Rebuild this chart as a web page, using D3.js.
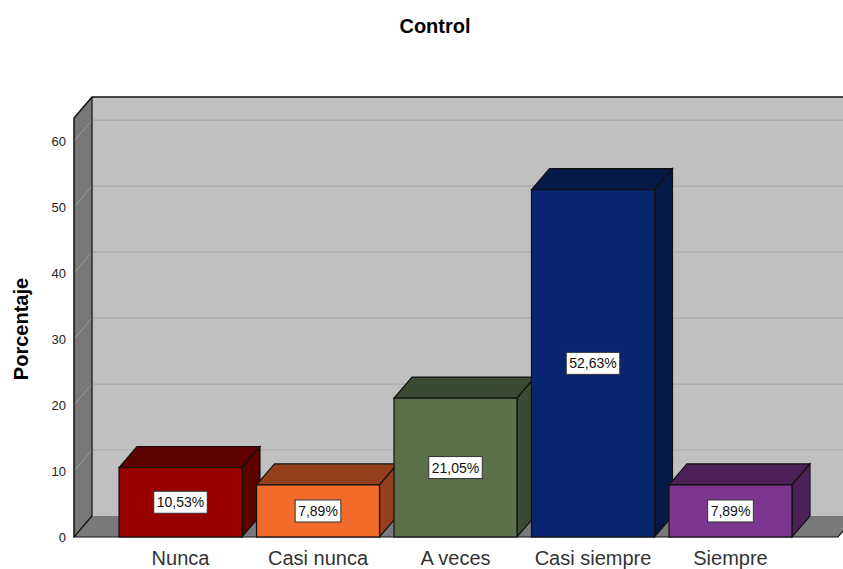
<!DOCTYPE html>
<html>
<head>
<meta charset="utf-8">
<script src="https://cdn.jsdelivr.net/npm/d3@7"></script>
<style>
  body { margin: 0; background: #fff; }
  text { font-family: Arial, "Liberation Sans", sans-serif; }
</style>
</head>
<body>
<svg id="chart" width="843" height="569"></svg>
<script>
// datos del gráfico
const categorias = ["Nunca", "Casi nunca", "A veces", "Casi siempre", "Siempre"];
const porcentajes = [10.53, 7.89, 21.05, 52.63, 7.89];
const etiquetas = ["10,53%", "7,89%", "21,05%", "52,63%", "7,89%"];
const ticksY = [0, 10, 20, 30, 40, 50, 60];
const coloresFrente = ["#990000", "#f26b2b", "#5b704a", "#0a2570", "#7b368f"];
const coloresLado = ["#5c0000", "#94401c", "#3b4a30", "#061a48", "#4c2159"];

const svg = d3.select("#chart");
const dx = 18, dy = 21; // profundidad 3D

const y = d3.scaleLinear().domain([0, 63.5]).range([537, 118]);
const x = d3.scaleBand()
  .domain(categorias)
  .range([111.75, 799.25])
  .paddingInner(0.1055)
  .paddingOuter(0.05275);

const x0 = 74, xFin = 838;
const yBase = y(0), yTop = y.range()[1];

// pared del fondo
svg.append("rect")
  .attr("x", x0 + dx).attr("y", yTop - dy)
  .attr("width", 900).attr("height", yBase - yTop)
  .attr("fill", "#c0c0c0");

// líneas de cuadrícula en el fondo
svg.selectAll(".grid")
  .data(ticksY.filter((d) => d > 0))
  .enter()
  .append("line")
  .attr("x1", x0 + dx).attr("x2", 900)
  .attr("y1", (d) => y(d) - dy).attr("y2", (d) => y(d) - dy)
  .style("stroke", "#aaaaaa")
  .style("stroke-width", 1.2);

// pared izquierda
svg.append("path")
  .attr("d", `M${x0},${yBase}L${x0},${yTop}L${x0 + dx},${yTop - dy}L${x0 + dx},${yBase - dy}Z`)
  .attr("fill", "#787878");

svg.selectAll(".gridLeft")
  .data(ticksY.filter((d) => d > 0))
  .enter()
  .append("line")
  .attr("x1", x0).attr("x2", x0 + dx)
  .attr("y1", (d) => y(d)).attr("y2", (d) => y(d) - dy)
  .style("stroke", "#9a9a9a")
  .style("stroke-width", 1);

// suelo
svg.append("path")
  .attr("d", `M${x0},${yBase}L${xFin},${yBase}L${xFin + dx},${yBase - dy}L${x0 + dx},${yBase - dy}Z`)
  .attr("fill", "#7a7a7a");

// bordes
const borde = "#111";
svg.append("path")
  .attr("d", `M${x0},${yBase}L${x0},${yTop}L${x0 + dx},${yTop - dy}L900,${yTop - dy}`)
  .attr("fill", "none").style("stroke", borde).style("stroke-width", 1.5);
svg.append("path")
  .attr("d", `M${x0 + dx},${yTop - dy}L${x0 + dx},${yBase - dy}L${x0},${yBase}L${xFin},${yBase}L${xFin + dx},${yBase - dy}`)
  .attr("fill", "none").style("stroke", borde).style("stroke-width", 1.2);

// barras
const barras = svg.selectAll(".bar")
  .data(categorias)
  .enter()
  .append("g")
  .attr("class", "bar");

barras.each(function (c, i) {
  const g = d3.select(this);
  const xa = x(c), xb = x(c) + x.bandwidth();
  const yt = y(porcentajes[i]);
  // cara superior
  g.append("path")
    .attr("d", `M${xa},${yt}L${xa + dx},${yt - dy}L${xb + dx},${yt - dy}L${xb},${yt}Z`)
    .attr("fill", coloresLado[i]).style("stroke", borde).style("stroke-width", 1.2);
  // cara lateral
  g.append("path")
    .attr("d", `M${xb},${yt}L${xb + dx},${yt - dy}L${xb + dx},${yBase - dy}L${xb},${yBase}Z`)
    .attr("fill", coloresLado[i]).style("stroke", borde).style("stroke-width", 1.2);
  // cara frontal
  g.append("rect")
    .attr("x", xa).attr("y", yt)
    .attr("width", x.bandwidth()).attr("height", yBase - yt)
    .attr("fill", coloresFrente[i]).style("stroke", borde).style("stroke-width", 1.2);

  // etiqueta de porcentaje
  const cx = (xa + xb) / 2, cy = (yt + yBase) / 2;
  const t = g.append("text")
    .attr("x", cx).attr("y", cy)
    .attr("text-anchor", "middle")
    .attr("dominant-baseline", "central")
    .style("font-size", "14px")
    .style("fill", "#111")
    .text(etiquetas[i]);
  const w = t.node().getComputedTextLength() + 6;
  g.insert("rect", "text")
    .attr("x", cx - w / 2).attr("y", cy - 11)
    .attr("width", w).attr("height", 22)
    .attr("fill", "#fff").style("stroke", "#333").style("stroke-width", 1);
});

// etiquetas del eje Y
svg.selectAll(".tickY")
  .data(ticksY)
  .enter()
  .append("text")
  .attr("x", 66).attr("y", (d) => y(d))
  .attr("text-anchor", "end")
  .attr("dominant-baseline", "central")
  .style("font-size", "13px")
  .style("fill", "#222")
  .text((d) => d);

// etiquetas del eje X
svg.selectAll(".tickX")
  .data(categorias)
  .enter()
  .append("text")
  .attr("x", (d) => x(d) + x.bandwidth() / 2)
  .attr("y", 558)
  .attr("text-anchor", "middle")
  .attr("dominant-baseline", "central")
  .style("font-size", "20px")
  .style("fill", "#333")
  .text((d) => d);

// título
svg.append("text")
  .attr("x", 435).attr("y", 26)
  .attr("text-anchor", "middle")
  .attr("dominant-baseline", "central")
  .style("font-size", "20px")
  .style("font-weight", "bold")
  .text("Control");

// título del eje Y
svg.append("text")
  .attr("transform", "translate(21,329) rotate(-90)")
  .attr("text-anchor", "middle")
  .attr("dominant-baseline", "central")
  .style("font-size", "20px")
  .style("font-weight", "bold")
  .text("Porcentaje");
</script>
</body>
</html>
